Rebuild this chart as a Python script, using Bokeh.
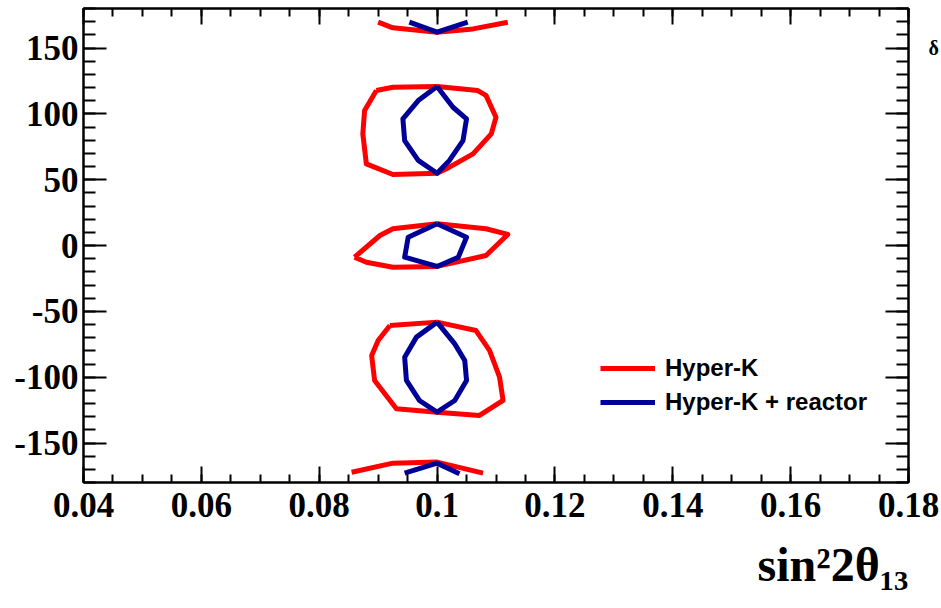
from bokeh.plotting import figure
from bokeh.models import (LinearAxis, FixedTicker, CustomJSTickFormatter, Legend,
                          LegendItem, Title, Range1d)
from bokeh.embed import file_html
from bokeh.resources import INLINE

# ---------------- data ----------------
x_ticks = [0.04, 0.06, 0.08, 0.10, 0.12, 0.14, 0.16, 0.18]
x_minor = [round(0.04 + 0.005 * i, 3) for i in range(29)]
y_ticks = [-150, -100, -50, 0, 50, 100, 150]
y_minor = list(range(-180, 181, 10))
x_title = "sin²2θ₁₃"
y_title_fragment = "δ"

# Hyper-K (red) contours
hk_top_x = [0.0900, 0.0925, 0.1000, 0.1061, 0.1120]
hk_top_y = [169.6, 165.3, 162.0, 164.5, 169.6]
hk_up_x = [0.0897, 0.0925, 0.1000, 0.1069, 0.1083, 0.1100, 0.1092, 0.1061, 0.1021,
           0.1000, 0.0925, 0.0880, 0.0874, 0.0877, 0.0897]
hk_up_y = [117.7, 120.2, 120.8, 117.7, 114.0, 97.4, 84.8, 69.6, 59.5,
           54.9, 53.9, 62.0, 84.8, 102.5, 117.7]
hk_mid_x = [0.0860, 0.0903, 0.0925, 0.1000, 0.1083, 0.1120, 0.1083, 0.1000, 0.0925,
            0.0880, 0.0860]
hk_mid_y = [-8.9, 7.6, 12.7, 16.5, 12.7, 8.4, -7.6, -15.9, -16.5, -12.7, -8.9]
hk_low_x = [0.0920, 0.1000, 0.1066, 0.1089, 0.1106, 0.1112, 0.1072, 0.1000, 0.0931,
            0.0894, 0.0889, 0.0900, 0.0920]
hk_low_y = [-60.8, -58.2, -64.6, -79.7, -100.0, -117.7, -129.1, -126.6, -124.0,
            -102.5, -83.5, -72.1, -60.8]
hk_bot_x = [0.0855, 0.0925, 0.1000, 0.1078]
hk_bot_y = [-172.2, -165.3, -164.5, -172.9]

# Hyper-K + reactor (blue) contours
hr_top_x = [0.0953, 0.1000, 0.1052]
hr_top_y = [169.6, 162.0, 169.6]
hr_up_x = [0.1000, 0.1027, 0.1050, 0.1044, 0.1021, 0.1000, 0.0968, 0.0945, 0.0942,
           0.0968, 0.1000]
hr_up_y = [120.8, 105.0, 96.2, 79.7, 64.6, 54.9, 64.6, 79.7, 96.2, 110.1, 120.8]
hr_mid_x = [0.1000, 0.1050, 0.1036, 0.1000, 0.0945, 0.0951, 0.1000]
hr_mid_y = [16.5, 6.3, -8.9, -15.9, -8.9, 6.3, 16.5]
hr_low_x = [0.1000, 0.1030, 0.1047, 0.1050, 0.1030, 0.1000, 0.0970, 0.0948, 0.0945,
            0.0965, 0.1000]
hr_low_y = [-58.2, -74.7, -87.3, -102.5, -117.7, -126.6, -117.7, -102.5, -84.8,
            -69.6, -58.2]
hr_bot_x = [0.0945, 0.1000, 0.1038]
hr_bot_y = [-172.9, -165.3, -173.4]

labels = ["Hyper-K", "Hyper-K + reactor"]
RED = "#ff0000"
BLUE = "#000096"

# ---------------- figure ----------------
p = figure(width=941, height=608, output_backend="svg", toolbar_location=None,
           x_range=Range1d(0.04, 0.18), y_range=Range1d(-180, 180),
           x_axis_location=None, y_axis_location=None,
           min_border_left=83, min_border_right=31, min_border_top=8,
           min_border_bottom=126)
p.background_fill_color = "white"
p.border_fill_color = "white"
p.outline_line_color = "black"
p.outline_line_width = 2
p.xgrid.visible = False
p.ygrid.visible = False

fmt_x = CustomJSTickFormatter(code="return Number(tick.toFixed(2)).toString();")
fmt_y = CustomJSTickFormatter(code="return Math.round(tick).toString();")
blank = CustomJSTickFormatter(code="return '';")
fmt_right = CustomJSTickFormatter(args=dict(t=y_title_fragment),
                                  code="return tick == 150 ? t : '';")


def style(ax, ticks, minor, major_len, minor_len):
    ax.ticker = FixedTicker(ticks=ticks, minor_ticks=minor)
    ax.axis_line_color = "black"
    ax.axis_line_width = 2
    ax.major_tick_line_color = "black"
    ax.major_tick_line_width = 2
    ax.minor_tick_line_color = "black"
    ax.minor_tick_line_width = 2
    ax.major_tick_in = major_len
    ax.major_tick_out = 0
    ax.minor_tick_in = minor_len
    ax.minor_tick_out = 0
    ax.major_label_text_font = "Liberation Serif"
    ax.major_label_text_font_style = "bold"
    ax.major_label_text_font_size = "35px"
    ax.major_label_text_color = "black"


bottom = LinearAxis()
style(bottom, x_ticks, x_minor, 16, 8)
bottom.formatter = fmt_x
bottom.major_label_standoff = 10

top = LinearAxis()
style(top, x_ticks, x_minor, 16, 8)
top.formatter = blank
top.major_label_text_font_size = "1px"
top.major_label_standoff = 0

left = LinearAxis()
style(left, y_ticks, y_minor, 23, 12)
left.formatter = fmt_y
left.major_label_standoff = 5

right = LinearAxis()
style(right, y_ticks, y_minor, 23, 12)
right.formatter = fmt_right
right.major_label_text_font_size = "20px"
right.major_label_standoff = 20

p.add_layout(bottom, "below")
p.add_layout(top, "above")
p.add_layout(left, "left")
p.add_layout(right, "right")

r_red = p.multi_line(xs=[hk_top_x, hk_up_x, hk_mid_x, hk_low_x, hk_bot_x],
                     ys=[hk_top_y, hk_up_y, hk_mid_y, hk_low_y, hk_bot_y],
                     line_color=RED, line_width=5, line_join="round")
r_blue = p.multi_line(xs=[hr_top_x, hr_up_x, hr_mid_x, hr_low_x, hr_bot_x],
                      ys=[hr_top_y, hr_up_y, hr_mid_y, hr_low_y, hr_bot_y],
                      line_color=BLUE, line_width=5, line_join="round")

legend = Legend(items=[LegendItem(label=labels[0], renderers=[r_red]),
                       LegendItem(label=labels[1], renderers=[r_blue])],
                location=(517, 66), border_line_color=None,
                background_fill_alpha=0, padding=0, margin=0, spacing=6,
                glyph_width=55, glyph_height=26, label_height=26,
                label_standoff=10, label_text_font="Liberation Sans",
                label_text_font_style="bold", label_text_font_size="24px",
                label_text_color="black")
p.add_layout(legend)

# x-axis title at the bottom right
p.add_layout(Title(text=x_title, align="right", text_font="Liberation Serif",
                   text_font_style="bold", text_font_size="48px",
                   text_color="black", standoff=33), "below")

open("out.html", "w").write(file_html(p, INLINE))
